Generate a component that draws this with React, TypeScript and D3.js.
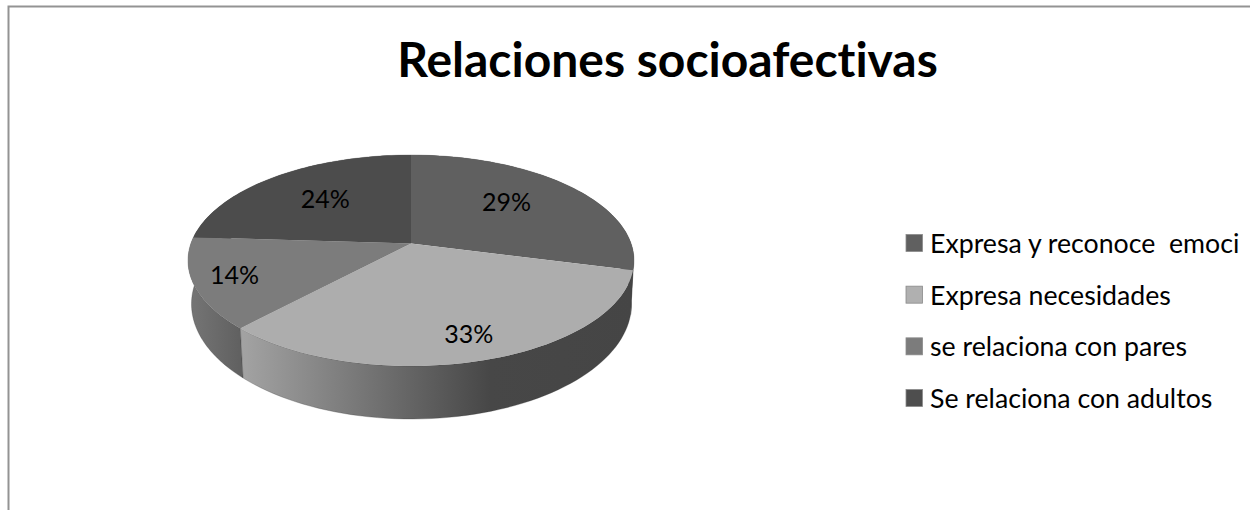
import * as d3 from "d3";

const title = "Relaciones socioafectivas";
const categories = [
  "Expresa y reconoce  emoci",
  "Expresa necesidades",
  "se relaciona con pares",
  "Se relaciona con adultos",
];
const shares = [29, 33, 14, 24];
const topColors = ["#606060", "#adadad", "#7c7c7c", "#4c4c4c"];
const swatchColors = ["#606060", "#b0b0b0", "#7c7c7c", "#4e4e4e"];
// label spot: fraction of the radius, then a small nudge in px
const labelRadius = [0.62, 0.82, 0.82, 0.61];
const labelNudge = [[-6, -6], [0, -3], [0, -2], [0, -3]];

const W = 1250;
const H = 510;

// rim ellipses of the tilted disc
const top = { cx: 411, cy: 260.5, rx: 223, ry: 105.5 };
const bottom = { cx: 411.5, cy: 304, rx: 220, ry: 115 };
// perspective: where the disc centre lands inside the ellipse (-1..1)
const tilt = -0.161;

/** Pie angle + radius fraction -> point in the tilted disc. */
function project(angle: number, r: number, e: typeof top): [number, number] {
  const u = Math.sin(angle) * r;
  const v = -Math.cos(angle) * r;
  const den = 1 + tilt * v;
  return [
    e.cx + (e.rx * u * Math.sqrt(1 - tilt * tilt)) / den,
    e.cy + (e.ry * (v + tilt)) / den,
  ];
}

const arcs = d3.pie<number>().sort(null)(shares);
const line = d3.line();

function rim(a0: number, a1: number, e: typeof top) {
  return d3.range(0, 61).map((i) => project(a0 + ((a1 - a0) * i) / 60, 1, e));
}

function topPath(a0: number, a1: number) {
  return line([project(0, 0, top), ...rim(a0, a1, top)]) + "Z";
}

function sidePath(a0: number, a1: number) {
  return line([...rim(a0, a1, top), ...rim(a1, a0, bottom)]) + "Z";
}

const sideFills = ["#454545", "url(#sideLight)", "url(#sideMid)", "#4a4a4a"];
const sideOrder = [3, 0, 2, 1];

const legendY = d3.scalePoint<number>().domain([0, 1, 2, 3]).range([243, 398]);

export default function App() {
  return (
    <svg
      width={W}
      height={H}
      viewBox={`0 0 ${W} ${H}`}
      style={{
        position: "absolute",
        left: 0,
        top: 0,
        background: "#fff",
        fontFamily: "Lato, 'Noto Sans', sans-serif",
        fontVariantLigatures: "none",
      }}
    >
      <defs>
        <linearGradient id="sideLight" gradientUnits="userSpaceOnUse" x1={244} x2={634} y1={0} y2={0}>
          <stop offset="0" stopColor="#a2a2a2" />
          <stop offset="0.63" stopColor="#474747" />
          <stop offset="1" stopColor="#454545" />
        </linearGradient>
        <linearGradient id="sideMid" gradientUnits="userSpaceOnUse" x1={190} x2={244} y1={0} y2={0}>
          <stop offset="0" stopColor="#757575" />
          <stop offset="1" stopColor="#5f5f5f" />
        </linearGradient>
      </defs>

      {/* frame, open at the right and bottom */}
      <path d={`M8.5 ${H}V6.5H${W}`} fill="none" stroke="#939393" strokeWidth={2} />

      <text x={667.5} y={77} textAnchor="middle" fontSize={48} fontWeight={700} fill="#000">
        {title}
      </text>

      {/* side wall */}
      {sideOrder.map((i) => (
        <path
          key={i}
          d={sidePath(arcs[i].startAngle, arcs[i].endAngle)}
          fill={sideFills[i]}
          stroke="rgba(50,50,50,0.4)"
          strokeWidth={0.7}
        />
      ))}

      {/* top face */}
      {arcs.map((a, i) => (
        <path key={i} d={topPath(a.startAngle, a.endAngle)} fill={topColors[i]} />
      ))}

      {arcs.map((a, i) => {
        const [x, y] = project((a.startAngle + a.endAngle) / 2, labelRadius[i], top);
        return (
          <text
            key={i}
            x={x + labelNudge[i][0]}
            y={y + labelNudge[i][1]}
            textAnchor="middle"
            dominantBaseline="central"
            fontSize={25}
            fill="#000"
          >
            {shares[i]}%
          </text>
        );
      })}

      {/* legend */}
      {categories.map((c, i) => (
        <g key={c} transform={`translate(906,${legendY(i)})`}>
          <rect x={0} y={-8.5} width={16.5} height={17} fill={swatchColors[i]} stroke="#8a8a8a" strokeWidth={0.8} />
          <text x={24} y={0} dominantBaseline="central" fontSize={26.7} fill="#000" style={{ whiteSpace: "pre" }}>
            {c}
          </text>
        </g>
      ))}
    </svg>
  );
}
